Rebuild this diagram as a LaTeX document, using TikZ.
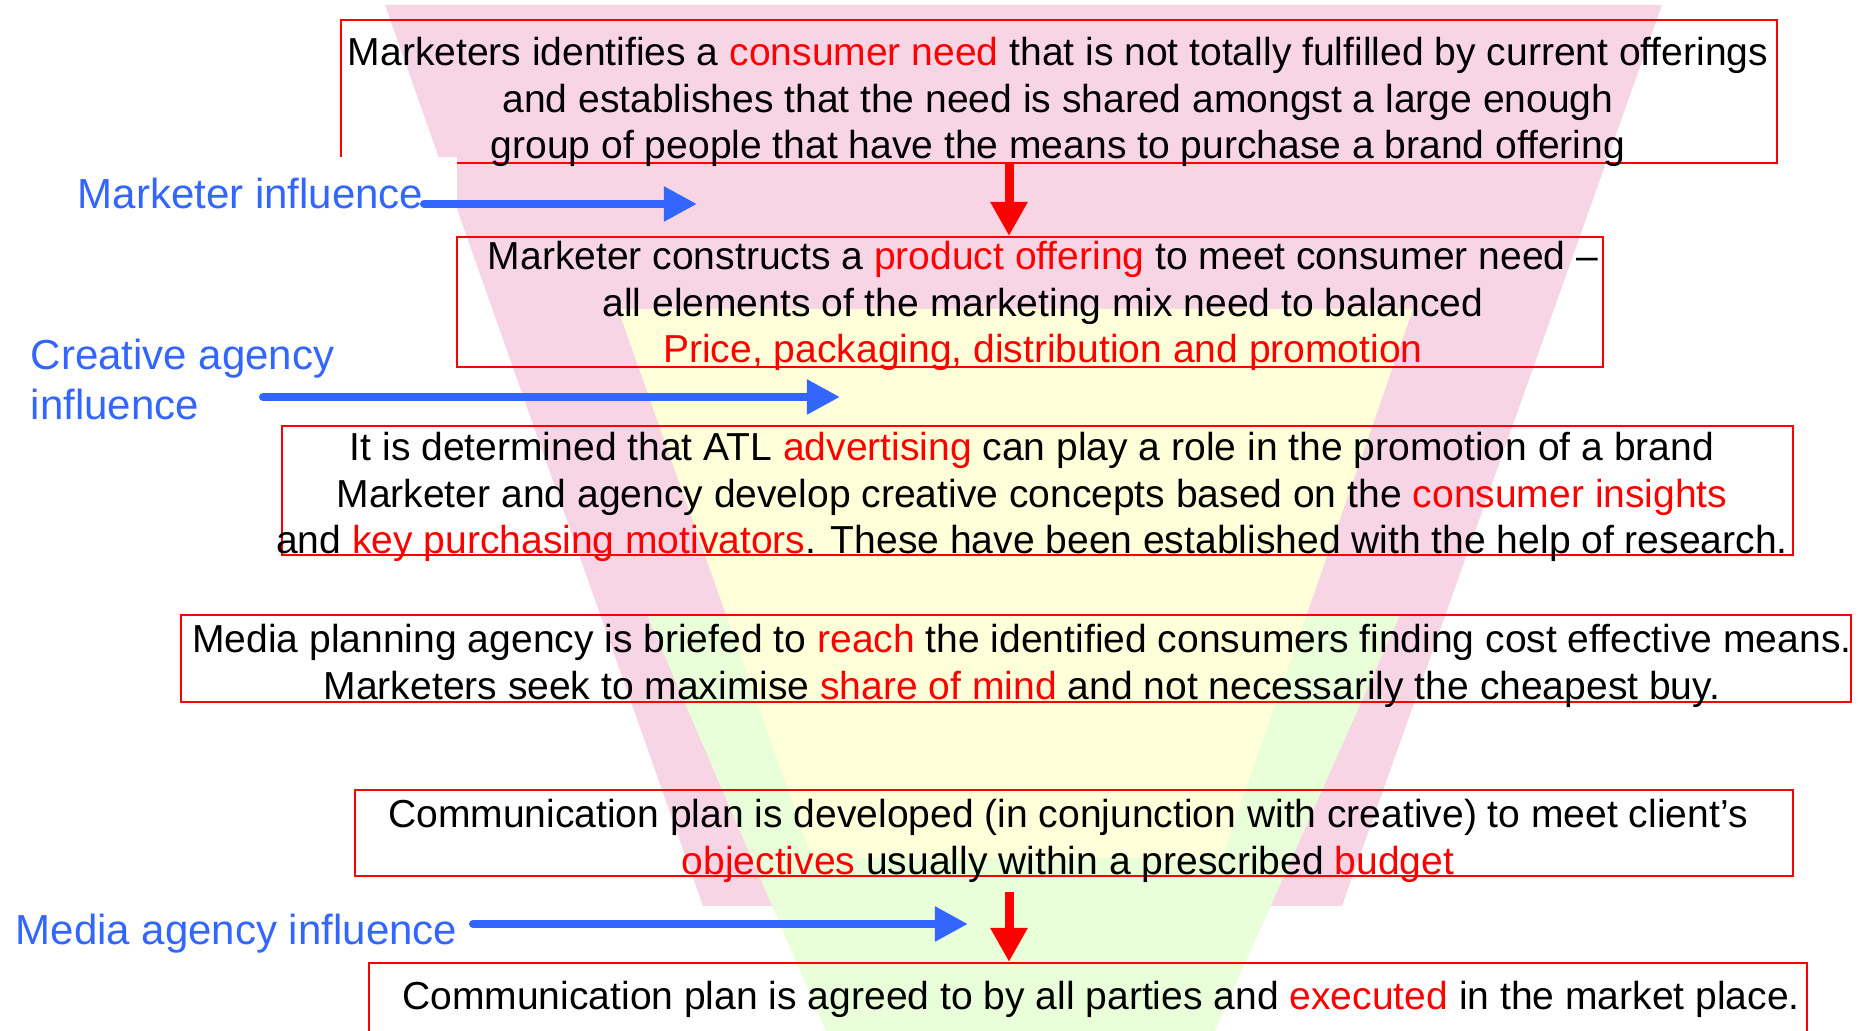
\documentclass[tikz,border=0pt]{standalone}
\usepackage{fontspec}
\setmainfont{Liberation Sans}
\newfontfamily\narrowfont{Liberation Sans}
\usetikzlibrary{arrows.meta,fit}
\definecolor{funnelpink}{RGB}{248,213,229}
\definecolor{funnelyellow}{RGB}{255,255,217}
\definecolor{funnelgreen}{RGB}{233,255,218}
\definecolor{influenceblue}{RGB}{51,102,255}
\newcommand{\hl}[1]{\textcolor{red}{#1}}

\begin{document}
\begin{tikzpicture}[x=0.01cm, y=-0.01cm,
    stagebox/.style={draw=red, line width=0.02cm, inner sep=0pt},
    stagetext/.style={anchor=north, inner sep=0pt, align=center, font=\narrowfont\fontsize{11.1pt}{13.24pt}\selectfont},
    influence/.style={inner sep=0pt, text=influenceblue, font=\fontsize{11.95pt}{14.2pt}\selectfont},
    pusharrow/.style={draw=influenceblue, line width=0.08cm, line cap=round, -{Triangle[length=0.33cm, width=0.33cm]}},
    flowarrow/.style={draw=red, line width=0.09cm, -{Triangle[length=0.34cm, width=0.35cm]}}]
    \useasboundingbox (0,0) rectangle (1865,1031);

    \fill[funnelpink] (385,5) -- (1662,5) -- (1342,906) -- (703,906) -- cycle;
    \fill[funnelgreen] (647,615) -- (1400,615) -- (1215,1031) -- (826,1031) -- cycle;
    \fill[funnelyellow] (618,309) -- (1413,309) -- (1222,858) -- (812,858) -- cycle;

    \node[stagebox, fit={(341,20) (1777,163)}] (b1) {};
    \node[stagebox, fit={(457,237) (1603,367)}] (b2) {};
    \node[stagebox, fit={(282,426) (1793,555)}] (b3) {};
    \node[stagebox, fit={(181,615) (1851,702)}] (b4) {};
    \node[stagebox, fit={(355,790) (1793,876)}] (b5) {};
    \node[stagebox, fit={(369,963) (1807,1045)}] (b6) {};

    \fill[white] (0,157) rectangle (457,230);

    \node[stagetext] (t1) at (1058,36.5) {Marketers identifies a \hl{consumer need} that is not totally fulfilled by current offerings\\
        and establishes that the need is shared amongst a large enough\\
        group of people that have the means to purchase a brand offering};
    \node[stagetext] (t2) at (1043,240.5) {Marketer constructs a \hl{product offering} to meet consumer need –\\
        all elements of the marketing mix need to balanced\\
        \hl{Price, packaging, distribution and promotion}};
    \node[stagetext] (t3) at (1032,431.5) {It is determined that ATL \hl{advertising} can play a role in the promotion of a brand\\
        Marketer and agency develop creative concepts based on the \hl{consumer insights}\\
        and \hl{key purchasing motivators}. These have been established with the help of research.};
    \node[stagetext] (t4) at (1022,623.5) {Media planning agency is briefed to \hl{reach} the identified consumers finding cost effective means.\\
        Marketers seek to maximise \hl{share of mind} and not necessarily the cheapest buy.};
    \node[stagetext] (t5) at (1068,798.5) {Communication plan is developed (in conjunction with creative) to meet client’s\\
        \hl{objectives} usually within a prescribed \hl{budget}};
    \node[stagetext] (t6) at (1101,980.5) {Communication plan is agreed to by all parties and \hl{executed} in the market place.};

    \node[influence, anchor=base west] (lab1) at (77,209) {Marketer influence};
    \node[influence, anchor=north west, align=left] (lab2) at (30,338) {Creative agency\\influence};
    \node[influence, anchor=base west] (lab3) at (15,945) {Media agency influence};

    \coordinate (m1s) at (424,204);
    \coordinate (m1e) at (697,204);
    \coordinate (m2s) at (263,397);
    \coordinate (m2e) at (840,397);
    \coordinate (m3s) at (473,924);
    \coordinate (m3e) at (968,924);
    \draw[pusharrow] (m1s) -- (m1e);
    \draw[pusharrow] (m2s) -- (m2e);
    \draw[pusharrow] (m3s) -- (m3e);

    \coordinate (drop) at (1009,0);
    \draw[flowarrow] (b1.south -| drop) -- (b2.north -| drop);
    \draw[flowarrow, shorten <=0.15cm] (b5.south -| drop) -- (b6.north -| drop);
\end{tikzpicture}
\end{document}
